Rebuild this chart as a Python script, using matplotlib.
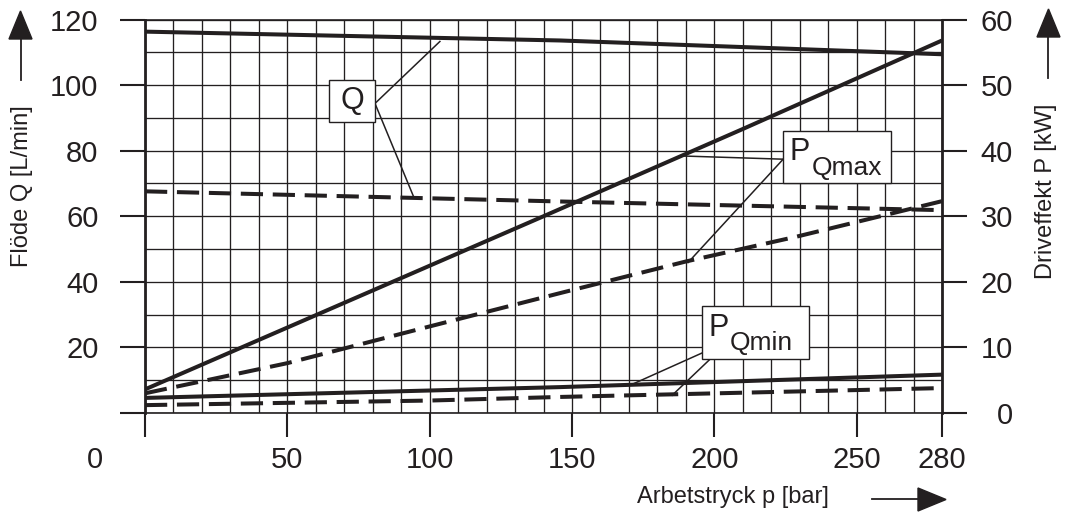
import matplotlib
matplotlib.use("Agg")
import matplotlib.pyplot as plt
import numpy as np
from matplotlib.patches import Rectangle, Polygon
from matplotlib.lines import Line2D

plt.rcParams['font.family'] = ['Liberation Sans', 'DejaVu Sans']
plt.rcParams['lines.scale_dashes'] = False

INK = '#231f20'

# ---- data ----
# flow curves (left axis, L/min)
q_max_p = [0, 146, 280]
q_max_v = [116.3, 113.6, 109.4]
q_min_p = [0, 146, 278]
q_min_v = [67.6, 64.5, 61.9]
# power curves (right axis, kW)
pqmax_p = [0, 140, 210, 280]
pqmax_v = [3.6, 30.0, 43.3, 56.8]
pqmax_d_p = [0, 50, 100, 146, 190, 229, 263, 280]
pqmax_d_v = [3.0, 7.6, 13.2, 18.3, 23.1, 26.9, 30.5, 32.3]
pqmin_p = [0, 146, 280]
pqmin_v = [2.3, 3.95, 5.85]
pqmin_d_p = [0, 100, 146, 280]
pqmin_d_v = [1.2, 1.9, 2.45, 3.8]

x_ticks = [0, 50, 100, 150, 200, 250, 280]
x_ticklabels = ['', '50', '100', '150', '200', '250', '280']
yl_ticks = [0, 20, 40, 60, 80, 100, 120]
yl_ticklabels = ['', '20', '40', '60', '80', '100', '120']
yr_ticks = [0, 10, 20, 30, 40, 50, 60]
yr_ticklabels = ['0', '10', '20', '30', '40', '50', '60']

fig = plt.figure(figsize=(10.75, 5.14), dpi=100)
ax = fig.add_axes([145/1075, 1-413/514, (942-145)/1075, (413-19.5)/514])
ax2 = ax.twinx()

ax.set_xlim(0, 280)
ax.set_ylim(0, 120)
ax2.set_ylim(0, 60)

# grid
ax.set_xticks(np.arange(0, 281, 10), minor=True)
ax.set_yticks(np.arange(0, 121, 10), minor=True)
ax.grid(which='minor', color=INK, lw=0.95)
ax.grid(which='major', color=INK, lw=0.95)
ax.tick_params(which='minor', length=0)
ax.set_axisbelow(True)

for s in ['top', 'bottom']:
    ax.spines[s].set_linewidth(1.2)
    ax.spines[s].set_color(INK)
    ax2.spines[s].set_visible(False)
ax.spines['left'].set_linewidth(2.0)
ax.spines['left'].set_color(INK)
ax.spines['right'].set_visible(False)
ax2.spines['left'].set_visible(False)
ax2.spines['right'].set_linewidth(2.0)
ax2.spines['right'].set_color(INK)

ax.set_xticks(x_ticks)
ax.set_xticklabels(x_ticklabels)
ax.set_yticks(yl_ticks)
ax.set_yticklabels(yl_ticklabels)
ax2.set_yticks(yr_ticks)
ax2.set_yticklabels(yr_ticklabels)

ax.tick_params(axis='x', direction='out', length=17, width=1.5, color=INK,
               labelsize=21, labelcolor=INK, pad=7)
ax.tick_params(axis='y', direction='out', length=18, width=1.5, color=INK,
               labelsize=21, labelcolor=INK, pad=15.5)
ax2.tick_params(axis='y', direction='out', length=18, width=1.5, color=INK,
                labelsize=21, labelcolor=INK, pad=33)
for lbl in ax2.get_yticklabels():
    lbl.set_horizontalalignment('right')

lw = 2.9
dash = (16, 7)
ax.plot(q_max_p, q_max_v, color=INK, lw=lw, solid_capstyle='butt', zorder=3)
ax.plot(q_min_p, q_min_v, color=INK, lw=lw, dashes=dash, dash_capstyle='butt', zorder=3)
ax2.plot(pqmax_p, pqmax_v, color=INK, lw=lw, solid_capstyle='butt', zorder=3)
ax2.plot(pqmax_d_p, pqmax_d_v, color=INK, lw=lw, dashes=dash, dash_capstyle='butt', zorder=3)
ax2.plot(pqmin_p, pqmin_v, color=INK, lw=lw, solid_capstyle='butt', zorder=3)
ax2.plot(pqmin_d_p, pqmin_d_v, color=INK, lw=lw, dashes=dash, dash_capstyle='butt', zorder=3)

# ---- annotations (drawn in left-axis data coordinates) ----
def leader(x0, y0, x1, y1):
    ax.plot([x0, x1], [y0, y1], color=INK, lw=1.1, zorder=4, clip_on=False)

def box(x0, y0, x1, y1):
    ax.add_patch(Rectangle((x0, y0), x1-x0, y1-y0, facecolor='white',
                           edgecolor=INK, lw=1.0, zorder=5))

# Q label
leader(80.8, 94.4, 103.6, 113.3)
leader(80.8, 94.4, 94.2, 66.3)
box(64.7, 88.6, 80.8, 101.4)
ax.text(72.8, 95.0, 'Q', fontsize=22, color=INK, ha='center', va='center', zorder=6)

# P_Qmax label
leader(224.2, 77.4, 188.0, 78.4)
leader(224.2, 77.4, 190.8, 45.9)
box(224.2, 70.1, 262.1, 85.9)
ax.text(226.3, 77.2, 'P', fontsize=22, color=INK, ha='left', va='baseline', zorder=6)
ax.text(234.2, 72.7, 'Qmax', fontsize=19, color=INK, ha='left', va='baseline', zorder=6)

# P_Qmin label
leader(195.7, 18.3, 171.8, 9.0)
leader(198.5, 16.4, 185.2, 5.4)
box(195.7, 16.4, 233.3, 32.6)
ax.text(198.0, 23.5, 'P', fontsize=22, color=INK, ha='left', va='baseline', zorder=6)
ax.text(205.5, 19.2, 'Qmin', fontsize=19, color=INK, ha='left', va='baseline', zorder=6)

# origin "0"
ax.annotate('0', xy=(0, 0), xytext=(-50, -47), textcoords='offset pixels',
            fontsize=21, color=INK, ha='center', va='center', annotation_clip=False)

# axis titles
fig.text(22/1075, 1-186/514, 'Flöde Q [L/min]', rotation=90, fontsize=17,
         color=INK, ha='center', va='center')
fig.text(1046/1075, 1-191/514, 'Driveffekt P [kW]', rotation=90, fontsize=17,
         color=INK, ha='center', va='center')
fig.text(733/1075, 1-497/514, 'Arbetstryck p [bar]', fontsize=17,
         color=INK, ha='center', va='center')

# arrows (figure pixel coordinates)
def fx(px):
    return px/1075
def fy(py):
    return 1-py/514

fig.add_artist(Line2D([fx(21), fx(21)], [fy(80), fy(38)], color=INK, lw=1.3))
fig.add_artist(Polygon([(fx(9), fy(39)), (fx(32), fy(39)), (fx(20.5), fy(11))],
                       closed=True, color=INK))
fig.add_artist(Line2D([fx(1048), fx(1048)], [fy(78), fy(36)], color=INK, lw=1.3))
fig.add_artist(Polygon([(fx(1037), fy(37)), (fx(1060), fy(37)), (fx(1048.5), fy(9))],
                       closed=True, color=INK))
fig.add_artist(Line2D([fx(872), fx(920)], [fy(499), fy(499)], color=INK, lw=1.3))
fig.add_artist(Polygon([(fx(918), fy(488)), (fx(918), fy(511)), (fx(946), fy(499.5))],
                       closed=True, color=INK))

fig.savefig('out.png', dpi=100)
